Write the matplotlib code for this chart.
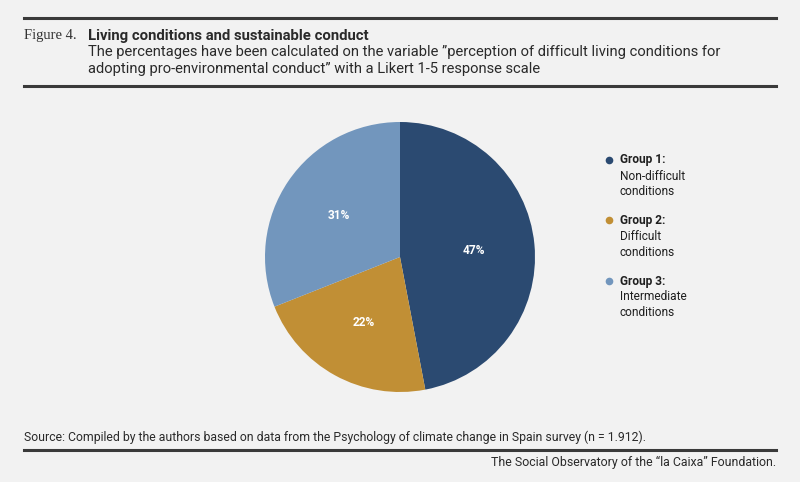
import matplotlib
matplotlib.use("Agg")
import matplotlib.pyplot as plt
from matplotlib.lines import Line2D

labels = ["Group 1:", "Group 2:", "Group 3:"]
descriptions = [["Non-difficult", "conditions"], ["Difficult", "conditions"], ["Intermediate", "conditions"]]
values = [47, 22, 31]
colors = ["#2b4a71", "#c18f35", "#7296bd"]

BG = "#f2f2f2"
fig = plt.figure(figsize=(8, 4.82), dpi=100, facecolor=BG)
W, H = 800, 482

def fx(x): return x / W
def fy(y): return 1 - y / H

FONT = ["Roboto", "DejaVu Sans"]

# rules
for y, lw in [(18, 2.2), (86, 2.2), (450, 2.2)]:
    fig.add_artist(Line2D([fx(24), fx(776)], [fy(y), fy(y)], color="#3a3a3a", lw=lw))

fig.text(fx(24), fy(36), "Figure 4.", family="Liberation Serif", fontsize=10.5,
         color="#333333", va="center", ha="left")
fig.text(fx(88), fy(36), "Living conditions and sustainable conduct", family=FONT,
         fontsize=10.7, fontweight="bold", color="#2a2a2a", va="center", ha="left")
fig.text(fx(88), fy(52), "The percentages have been calculated on the variable \u201dperception of difficult living conditions for",
         family=FONT, fontsize=10.6, color="#2a2a2a", va="center", ha="left")
fig.text(fx(88), fy(69), "adopting pro-environmental conduct\u201d with a Likert 1-5 response scale",
         family=FONT, fontsize=10.6, color="#2a2a2a", va="center", ha="left")
fig.text(fx(24), fy(437), "Source: Compiled by the authors based on data from the Psychology of climate change in Spain survey (n = 1.912).",
         family=FONT, fontsize=8.8, color="#2a2a2a", va="center", ha="left")
fig.text(fx(776), fy(462), "The Social Observatory of the \u201cla Caixa\u201d Foundation.",
         family=FONT, fontsize=8.9, color="#2a2a2a", va="center", ha="right")

# pie
R = 135
cx, cy = 400, 257
ax = fig.add_axes([fx(cx - R), fy(cy + R), 2 * R / W, 2 * R / H])
ax.set_facecolor(BG)
wedges, texts = ax.pie(values, colors=colors, startangle=90, counterclock=False,
                       labels=[f"{v}%" for v in values], labeldistance=0.55,
                       wedgeprops=dict(linewidth=0))
for t in texts:
    t.set_color("white")
    t.set_fontsize(8.6)
    t.set_fontweight("bold")
    t.set_family(FONT)
    t.set_ha("center")
    t.set_va("center")
ax.set_aspect("equal")
ax.set_xlim(-1, 1)
ax.set_ylim(-1, 1)
ax.axis("off")

# legend
for i, (lab, desc, col) in enumerate(zip(labels, descriptions, colors)):
    y0 = 160 + i * 60.5
    fig.add_artist(Line2D([fx(609)], [fy(y0)], marker="o", markersize=5.5,
                          color=col, markeredgewidth=0))
    fig.text(fx(620), fy(y0), lab, family=FONT, fontsize=8.6, fontweight="bold",
             color="#1f1f1f", va="center", ha="left")
    for j, line in enumerate(desc):
        fig.text(fx(620), fy(y0 + 16 * (j + 1)), line, family=FONT, fontsize=8.6,
                 color="#1f1f1f", va="center", ha="left")

fig.savefig("out.png", dpi=100, facecolor=BG)
